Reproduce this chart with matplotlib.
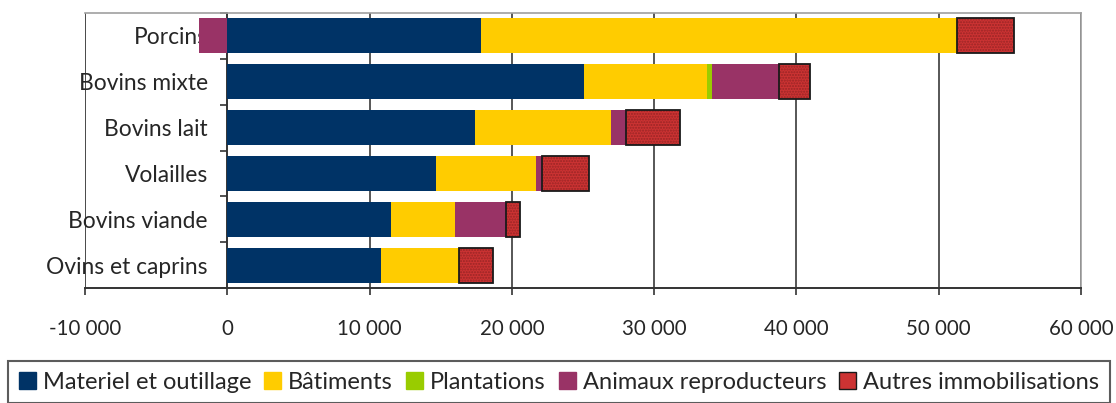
import matplotlib
matplotlib.use('Agg')
import matplotlib.pyplot as plt
import numpy as np
from matplotlib.patches import Patch
from matplotlib.ticker import FuncFormatter, FixedLocator

plt.rcParams['font.family'] = ['Lato', 'DejaVu Sans']

categories = ['Porcins', 'Bovins mixte', 'Bovins lait', 'Volailles', 'Bovins viande', 'Ovins et caprins']
materiel = [17800, 25100, 17400, 14700, 11500, 10800]
batiments = [33500, 8600, 9600, 7000, 4500, 5500]
plantations = [0, 350, 0, 0, 0, 0]
animaux = [-2000, 4700, 1000, 400, 3600, 0]
autres = [4000, 2200, 3800, 3300, 1000, 2400]

names = ['Materiel et outillage', 'Bâtiments', 'Plantations', 'Animaux reproducteurs', 'Autres immobilisations']
colors = ['#003366', '#ffcc00', '#99cc00', '#993366', '#cc3333']
txt = '#262626'

fig = plt.figure(figsize=(11.16, 4.03), dpi=100)
ax = fig.add_axes([0.0762, 0.285, 0.8924, 0.683])

y = np.arange(len(categories))
h = 0.76

# positive parts stack to the right, negative parts to the left of zero
pos_left = np.zeros(len(categories))
neg_left = np.zeros(len(categories))
series = [materiel, batiments, plantations, animaux, autres]
for i, vals in enumerate(series):
    vals = np.array(vals, dtype=float)
    left = np.where(vals >= 0, pos_left, neg_left)
    if i == 4:
        ax.barh(y, vals, height=h, left=left, color=colors[i], edgecolor='#9a2525',
                hatch='......', linewidth=0, zorder=3)
        ax.barh(y, vals, height=h, left=left, fill=False, edgecolor='#1a1a1a',
                linewidth=1.3, zorder=3.1)
    else:
        ax.barh(y, vals, height=h, left=left, color=colors[i], linewidth=0, zorder=3)
    pos_left = pos_left + np.where(vals >= 0, vals, 0)
    neg_left = neg_left + np.where(vals < 0, vals, 0)

ax.set_xlim(-10000, 60000)
ax.set_ylim(len(categories) - 0.5, -0.5)
ax.set_xticks(np.arange(-10000, 60001, 10000))
ax.xaxis.set_major_formatter(FuncFormatter(lambda v, p: '{:,.0f}'.format(v).replace(',', ' ')))
ax.grid(axis='x', color='#3a3a3a', linewidth=1.2, zorder=0)
ax.set_axisbelow(True)

ax.set_yticks(y)
ax.set_yticklabels(categories)
ax.yaxis.set_minor_locator(FixedLocator(np.arange(-0.5, len(categories), 1)))
ax.tick_params(axis='y', which='major', length=0, pad=14, labelsize=16.4, labelcolor=txt)
ax.tick_params(axis='y', which='minor', length=5, width=1.2, color='#333333')
ax.tick_params(axis='x', length=5, width=1.2, color='#333333', pad=17, labelsize=14.8,
               labelcolor=txt)

ax.spines['left'].set_position(('data', 0))
ax.spines['left'].set_color('#333333')
ax.spines['left'].set_linewidth(1.2)
ax.spines['bottom'].set_color('#333333')
ax.spines['bottom'].set_linewidth(1.4)
for s in ['top', 'right']:
    ax.spines[s].set_color('#a0a0a0')
    ax.spines[s].set_linewidth(1.2)
ax.axvline(-10000, color='#a0a0a0', linewidth=1.2, zorder=0)

handles = [Patch(facecolor=colors[i], edgecolor=colors[i] if i < 4 else '#1a1a1a', label=names[i])
           for i in range(5)]
leg = fig.legend(handles=handles, loc='upper left', bbox_to_anchor=(8 / 1116, 1 - 361 / 403),
                 ncol=5, fontsize=17, frameon=True, fancybox=False, edgecolor='#333333',
                 handlelength=0.72, handleheight=0.72, handletextpad=0.3, columnspacing=0.55,
                 borderpad=0.45, borderaxespad=0)
for t in leg.get_texts():
    t.set_color(txt)
leg.get_frame().set_linewidth(1.5)

fig.savefig('out.png', dpi=100)
